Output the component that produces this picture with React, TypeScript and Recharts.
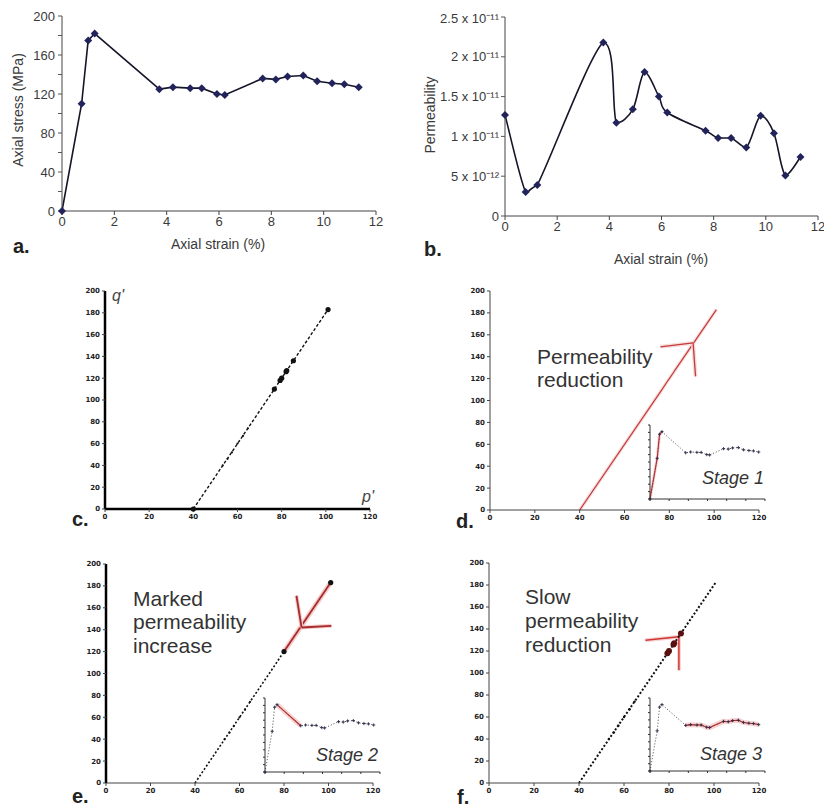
import React from "react";
import { ComposedChart, Line, LineChart, ReferenceLine, Scatter, XAxis, YAxis } from "recharts";

// a. stress-strain
const strain = [0, 0.75, 1.0, 1.25, 3.72, 4.24, 4.9, 5.34, 5.92, 6.22, 7.67, 8.17, 8.62, 9.22, 9.75, 10.32, 10.79, 11.34];
const stress = [0, 110, 175, 182, 125, 127, 126, 126, 120, 119, 136, 135, 138, 139, 133, 131, 130, 127];

// b. permeability (x 1e-11)
const permStrain = [0, 0.79, 1.24, 3.77, 4.27, 4.9, 5.35, 5.9, 6.22, 7.69, 8.17, 8.67, 9.25, 9.8, 10.31, 10.75, 11.33];
const permeability = [1.27, 0.3, 0.39, 2.18, 1.17, 1.34, 1.81, 1.5, 1.3, 1.07, 0.98, 0.98, 0.86, 1.26, 1.04, 0.51, 0.74];
const permTicks = [0, 0.5, 1, 1.5, 2, 2.5];
const permTickLabels = ["0", "5 x 10\u207B\u00B9\u00B2", "1 x 10\u207B\u00B9\u00B9", "1.5 x 10\u207B\u00B9\u00B9", "2 x 10\u207B\u00B9\u00B9", "2.5 x 10\u207B\u00B9\u00B9"];

// c-f. stress path p'-q'
const pathP = [40, 76.7, 79.3, 80, 82, 82.3, 85.3, 101];
const pathQ = [0, 110, 118, 120, 126, 127, 136, 183];
const smallP = [53.3, 55.5, 57.5, 60, 62.5, 64.7];
const smallQ = [40, 46, 52, 60, 67, 74];
const stage2P = [80, 101];
const stage2Q = [120, 183];
const stage3P = [79.3, 80, 82, 82.3, 85.3];
const stage3Q = [118, 120, 126, 127, 136];

// annotation arrows [p, q]: junction, barb, barb
const arrowD = [[90.6, 152.6], [76, 149], [91.7, 122]];
const arrowE = [[87.9, 142], [85.6, 171], [101.3, 143.5]];
const arrowF = [[84.4, 133], [69.5, 129.7], [84.4, 102.4]];

const pqTicksX = [0, 20, 40, 60, 80, 100, 120];
const pqTicksY = [0, 20, 40, 60, 80, 100, 120, 140, 160, 180, 200];
const stageIdx: Record<number, [number, number]> = { 1: [0, 3], 2: [3, 4], 3: [4, 17] };

const stressRows = strain.map((s, i) => ({ s, v: stress[i] }));
const permRows = permStrain.map((s, i) => ({ s, k: permeability[i] }));
const pathRows = pathP.map((p, i) => ({ p, q: pathQ[i] }));
const smallRows = smallP.map((p, i) => ({ p, q: smallQ[i] }));
const stage2Rows = stage2P.map((p, i) => ({ p, q: stage2Q[i] }));
const stage3Rows = stage3P.map((p, i) => ({ p, q: stage3Q[i] }));

// Excel-like smoothed line: Catmull-Rom, control points kept inside each segment's y range
const smoothCurve = (context: any) => {
  let pts: number[][] = [];
  const clamp = (v: number, a: number, b: number) => Math.min(Math.max(v, Math.min(a, b)), Math.max(a, b));
  return {
    areaStart() {},
    areaEnd() {},
    lineStart() {
      pts = [];
    },
    point(x: number, y: number) {
      pts.push([x, y]);
    },
    lineEnd() {
      if (!pts.length) return;
      context.moveTo(pts[0][0], pts[0][1]);
      for (let i = 0; i < pts.length - 1; i++) {
        const p0 = pts[i - 1] || pts[i];
        const p1 = pts[i];
        const p2 = pts[i + 1];
        const p3 = pts[i + 2] || p2;
        context.bezierCurveTo(
          p1[0] + (p2[0] - p0[0]) / 6,
          clamp(p1[1] + (p2[1] - p0[1]) / 6, p1[1], p2[1]),
          p2[0] - (p3[0] - p1[0]) / 6,
          clamp(p2[1] - (p3[1] - p1[1]) / 6, p1[1], p2[1]),
          p2[0],
          p2[1]
        );
      }
    },
  };
};

function frame(L: number, T: number, R: number, B: number, yW: number, xH: number) {
  const pad = 8;
  return {
    style: { position: "absolute" as const, left: L - yW - pad, top: T - pad },
    width: R - L + yW + 2 * pad,
    height: B - T + xH + 2 * pad,
    margin: { top: pad, right: pad, bottom: pad, left: pad },
  };
}

const Diamond = (props: any) => {
  const { cx, cy, index } = props;
  if (cx == null || cy == null) return <g key={`dm-${index}`} />;
  return (
    <polygon key={`dm-${index}`} points={`${cx},${cy - 4} ${cx + 4},${cy} ${cx},${cy + 4} ${cx - 4},${cy}`} fill="#23235c" />
  );
};

const Plus = (props: any) => {
  const { cx, cy, index } = props;
  if (cx == null || cy == null) return <g key={`pl-${index}`} />;
  return <path key={`pl-${index}`} d={`M${cx - 1.6},${cy}h3.2M${cx},${cy - 1.6}v3.2`} stroke="#2a2a4a" strokeWidth={0.9} />;
};

const dotShape = (r: number, fill: string) => (props: any) => <circle cx={props.cx} cy={props.cy} r={r} fill={fill} />;

const smallTick = { fontSize: 7, fill: "#222", fontFamily: "DejaVu Sans", fontWeight: 700 };
const bigTick = { fontSize: 13, fill: "#3a3a3a", fontFamily: "Liberation Sans" };

function PQAxes({ thickX, thickY }: { thickX: boolean; thickY: boolean }) {
  return (
    <>
      <XAxis
        dataKey="p"
        type="number"
        domain={[0, 120]}
        ticks={pqTicksX}
        tick={smallTick}
        tickSize={3}
        tickMargin={2}
        height={16}
        axisLine={{ stroke: thickX ? "#000" : "#444", strokeWidth: thickX ? 2.5 : 1 }}
        tickLine={{ stroke: "#444" }}
      />
      <YAxis
        dataKey="q"
        type="number"
        domain={[0, 200]}
        ticks={pqTicksY}
        tick={smallTick}
        tickSize={3}
        tickMargin={2}
        width={22}
        axisLine={{ stroke: thickY ? "#000" : "#444", strokeWidth: thickY ? 2.5 : 1 }}
        tickLine={{ stroke: "#444" }}
      />
    </>
  );
}

function Arrow({ pts, color, halo, width }: { pts: number[][]; color: string; halo: string; width: number }) {
  const [j, a, b] = pts;
  return (
    <>
      {[a, b].map((e, i) => (
        <ReferenceLine key={`h${i}`} segment={[{ x: j[0], y: j[1] }, { x: e[0], y: e[1] }]} stroke={halo} strokeWidth={4} ifOverflow="visible" />
      ))}
      {[a, b].map((e, i) => (
        <ReferenceLine key={`l${i}`} segment={[{ x: j[0], y: j[1] }, { x: e[0], y: e[1] }]} stroke={color} strokeWidth={width} ifOverflow="visible" />
      ))}
    </>
  );
}

function Inset({ L, T, R, B, stage }: { L: number; T: number; R: number; B: number; stage: number }) {
  const f = frame(L, T, R, B, 3, 3);
  const [i0, i1] = stageIdx[stage];
  const rows = strain.map((s, i) => ({ s, v: stress[i], hi: i >= i0 && i <= i1 ? stress[i] : null }));
  return (
    <div style={f.style}>
      <LineChart width={f.width} height={f.height} margin={f.margin} data={rows}>
        <XAxis dataKey="s" type="number" domain={[0, 12]} ticks={[0, 2, 4, 6, 8, 10, 12]} tickFormatter={() => ""} tickSize={2} height={3} axisLine={{ stroke: "#333" }} tickLine={{ stroke: "#333" }} />
        <YAxis type="number" domain={[0, 200]} ticks={pqTicksY} tickFormatter={() => ""} tickSize={2} width={3} axisLine={{ stroke: "#333" }} tickLine={{ stroke: "#333" }} />
        <Line dataKey="hi" stroke="#f7d2d2" strokeWidth={stage === 1 ? 3 : 5} dot={false} isAnimationActive={false} connectNulls={false} />
        <Line dataKey="v" stroke="#333" strokeWidth={0.9} strokeDasharray="1 2" dot={Plus} isAnimationActive={false} />
        <Line dataKey="hi" stroke="#b23030" strokeWidth={1.1} dot={false} isAnimationActive={false} connectNulls={false} />
      </LineChart>
    </div>
  );
}

function PanelA() {
  const f = frame(62, 16, 376, 211, 50, 30);
  return (
    <div style={f.style}>
      <LineChart width={f.width} height={f.height} margin={f.margin} data={stressRows}>
        <XAxis dataKey="s" type="number" domain={[0, 12]} ticks={[0, 2, 4, 6, 8, 10, 12]} tick={bigTick} tickSize={4} tickMargin={2} height={30} axisLine={{ stroke: "#444" }} tickLine={{ stroke: "#444" }} />
        <YAxis type="number" domain={[0, 200]} ticks={pqTicksY} tickFormatter={(v: number) => (v % 40 === 0 ? String(v) : "")} tick={bigTick} tickSize={4} tickMargin={3} width={50} axisLine={{ stroke: "#444" }} tickLine={{ stroke: "#555" }} />
        <Line dataKey="v" type="linear" stroke="#15152a" strokeWidth={1.6} dot={Diamond} isAnimationActive={false} />
      </LineChart>
    </div>
  );
}

function PanelB() {
  const f = frame(505, 17, 818, 216, 90, 30);
  return (
    <div style={f.style}>
      <LineChart width={f.width} height={f.height} margin={f.margin} data={permRows}>
        <XAxis dataKey="s" type="number" domain={[0, 12]} ticks={[0, 2, 4, 6, 8, 10, 12]} tick={bigTick} tickSize={4} tickMargin={2} height={30} axisLine={{ stroke: "#444" }} tickLine={{ stroke: "#444" }} />
        <YAxis type="number" domain={[0, 2.5]} ticks={permTicks} tickFormatter={(v: number) => permTickLabels[permTicks.indexOf(v)]} tick={bigTick} tickSize={4} tickMargin={2} width={90} axisLine={{ stroke: "#444" }} tickLine={{ stroke: "#555" }} />
        <Line dataKey="k" type={smoothCurve as any} stroke="#15152a" strokeWidth={1.6} dot={Diamond} isAnimationActive={false} />
      </LineChart>
    </div>
  );
}

function PanelC() {
  const f = frame(105, 291, 370, 509, 22, 16);
  return (
    <div style={f.style}>
      <ComposedChart width={f.width} height={f.height} margin={f.margin}>
        {PQAxes({ thickX: true, thickY: true })}
        <Line data={pathRows} dataKey="q" stroke="#111" strokeWidth={1.4} strokeDasharray="3 2" dot={false} isAnimationActive={false} />
        <Scatter data={smallRows} shape={dotShape(1.1, "#111")} isAnimationActive={false} />
        <Scatter data={pathRows} shape={dotShape(2.6, "#111")} isAnimationActive={false} />
      </ComposedChart>
    </div>
  );
}

function PanelD() {
  const f = frame(490, 291, 759, 510, 22, 16);
  return (
    <div style={f.style}>
      <ComposedChart width={f.width} height={f.height} margin={f.margin}>
        {PQAxes({ thickX: false, thickY: false })}
        <Line data={pathRows} dataKey="q" stroke="#f8dcdc" strokeWidth={3.5} dot={false} isAnimationActive={false} />
        <Line data={pathRows} dataKey="q" stroke="#c23b3b" strokeWidth={1.2} dot={false} isAnimationActive={false} />
        {Arrow({ pts: arrowD, color: "#c23b3b", halo: "#f8dcdc", width: 1.3 })}
      </ComposedChart>
    </div>
  );
}

function PanelE() {
  const f = frame(106, 564, 373, 783, 22, 16);
  return (
    <div style={f.style}>
      <ComposedChart width={f.width} height={f.height} margin={f.margin}>
        {PQAxes({ thickX: false, thickY: true })}
        <Line data={pathRows.slice(0, 4)} dataKey="q" stroke="#111" strokeWidth={1.6} strokeDasharray="2 2" dot={false} isAnimationActive={false} />
        <Scatter data={smallRows} shape={dotShape(1.1, "#111")} isAnimationActive={false} />
        <Line data={stage2Rows} dataKey="q" stroke="#f4cccc" strokeWidth={5} dot={false} isAnimationActive={false} />
        <Line data={stage2Rows} dataKey="q" stroke="#a82a2a" strokeWidth={1.8} dot={false} isAnimationActive={false} />
        {Arrow({ pts: arrowE, color: "#a82a2a", halo: "#f4cccc", width: 1.8 })}
        <Scatter data={stage2Rows} shape={dotShape(2.6, "#111")} isAnimationActive={false} />
      </ComposedChart>
    </div>
  );
}

function PanelF() {
  const f = frame(489, 563, 759, 783, 22, 16);
  return (
    <div style={f.style}>
      <ComposedChart width={f.width} height={f.height} margin={f.margin}>
        {PQAxes({ thickX: false, thickY: false })}
        {Arrow({ pts: arrowF, color: "#d03434", halo: "#f7d4d4", width: 1.5 })}
        <Line data={pathRows} dataKey="q" stroke="#111" strokeWidth={2} strokeDasharray="2 2" dot={false} isAnimationActive={false} />
        <Scatter data={smallRows} shape={dotShape(1.2, "#111")} isAnimationActive={false} />
        <Scatter data={stage3Rows} shape={dotShape(3, "#5a1010")} isAnimationActive={false} />
      </ComposedChart>
    </div>
  );
}

const labelFont = { fontFamily: "Liberation Sans, Arial, sans-serif" };

function Texts() {
  const ann = { fontSize: 21, fill: "#333" };
  const stageT = { fontSize: 18, fill: "#333", fontStyle: "italic" as const };
  const letter = { fontSize: 20, fontWeight: 700, fill: "#222" };
  return (
    <svg width={824} height={809} style={{ position: "absolute", left: 0, top: 0, pointerEvents: "none", ...labelFont }}>
      <text x={13} y={253} {...letter}>a.</text>
      <text x={424} y={256} {...letter}>b.</text>
      <text x={72} y={526} {...letter}>c.</text>
      <text x={456} y={528} {...letter}>d.</text>
      <text x={72} y={803} {...letter}>e.</text>
      <text x={457} y={804} {...letter}>f.</text>

      <text x={218} y={249} fontSize={14} fill="#3a3a3a" textAnchor="middle">Axial strain (%)</text>
      <text transform="translate(23,110) rotate(-90)" fontSize={14} fill="#3a3a3a" textAnchor="middle">Axial stress (MPa)</text>
      <text x={661} y={264} fontSize={14} fill="#3a3a3a" textAnchor="middle">Axial strain (%)</text>
      <text transform="translate(435,115) rotate(-90)" fontSize={14} fill="#3a3a3a" textAnchor="middle">Permeability</text>

      <text x={112} y={301} fontSize={16} fontStyle="italic" fill="#444">q'</text>
      <text x={362} y={502} fontSize={16} fontStyle="italic" fill="#444">p'</text>

      <text x={537} y={364} {...ann}>Permeability</text>
      <text x={537} y={387} {...ann}>reduction</text>
      <text x={133} y={606} {...ann}>Marked</text>
      <text x={133} y={629} {...ann}>permeability</text>
      <text x={133} y={653} {...ann}>increase</text>
      <text x={525} y={604} {...ann}>Slow</text>
      <text x={525} y={628} {...ann}>permeability</text>
      <text x={525} y={652} {...ann}>reduction</text>

      <text x={702} y={484} {...stageT}>Stage 1</text>
      <text x={316} y={761} {...stageT}>Stage 2</text>
      <text x={700} y={760} {...stageT}>Stage 3</text>
    </svg>
  );
}

export default function App() {
  return (
    <div style={{ position: "absolute", left: 0, top: 0, width: 824, height: 809, overflow: "hidden", background: "#fff", ...labelFont }}>
      <PanelA />
      <PanelB />
      <PanelC />
      <PanelD />
      <PanelE />
      <PanelF />
      <Inset L={650} T={425} R={765} B={499} stage={1} />
      <Inset L={265} T={698} R={380} B={772} stage={2} />
      <Inset L={650} T={698} R={765} B={771} stage={3} />
      <Texts />
    </div>
  );
}
